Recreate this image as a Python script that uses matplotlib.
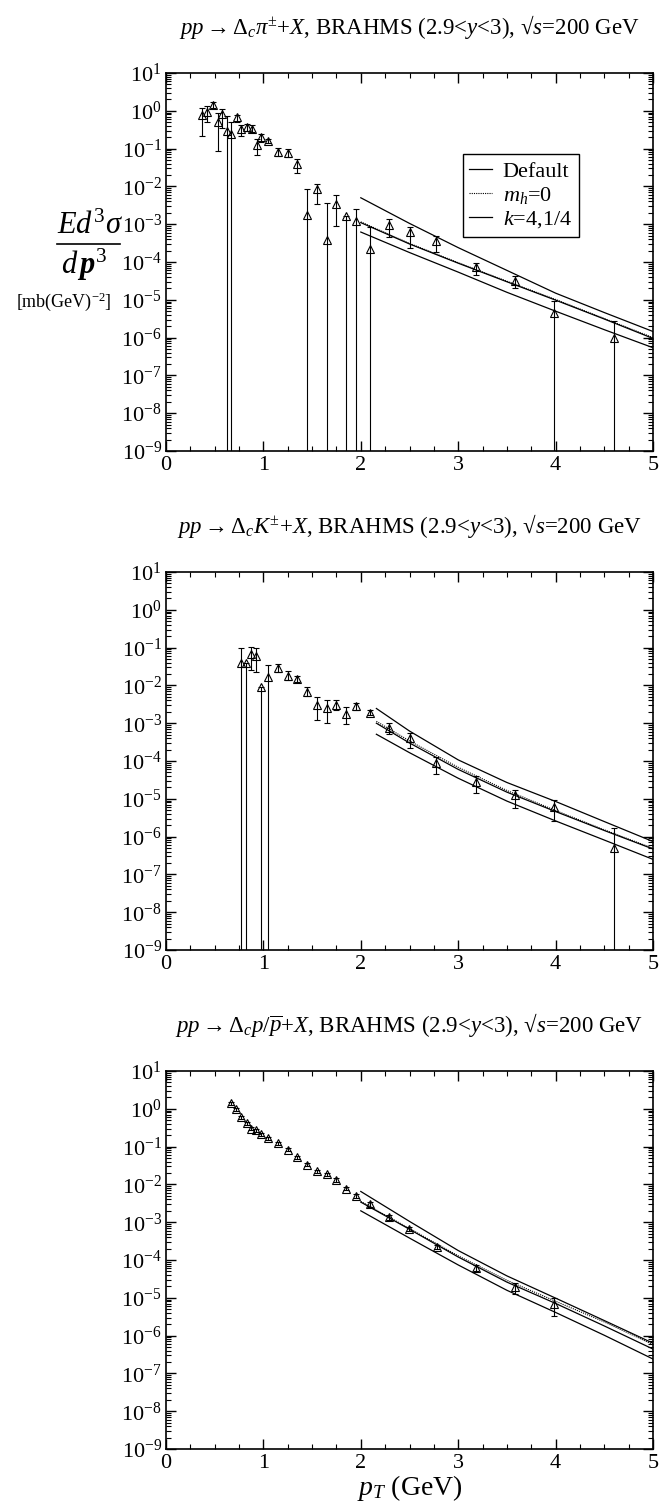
import matplotlib
matplotlib.use("Agg")
import matplotlib.pyplot as plt
import numpy as np
from matplotlib.ticker import LogLocator, FuncFormatter, MultipleLocator, NullFormatter
from matplotlib.lines import Line2D

plt.rcParams['font.family'] = ['Liberation Serif', 'DejaVu Serif']
plt.rcParams['mathtext.fontset'] = 'custom'
plt.rcParams['mathtext.rm'] = 'Liberation Serif'
plt.rcParams['mathtext.it'] = 'Liberation Serif:italic'
plt.rcParams['mathtext.bf'] = 'Liberation Serif:italic:bold'

# ---- data: pi+- panel ----
x1 = [0.37, 0.42, 0.48, 0.53, 0.58, 0.63, 0.67, 0.73, 0.77, 0.83, 0.88, 0.93, 0.98, 1.05, 1.15, 1.25,
      1.35, 1.45, 1.55, 1.65, 1.75, 1.85, 1.95, 2.09, 2.29, 2.50, 2.77, 3.18, 3.58, 3.98, 4.60]
y1 = [0.77, 0.95, 1.42, 0.52, 0.81, 0.29, 0.24, 0.67, 0.33, 0.37, 0.34, 0.124, 0.206, 0.16, 0.083, 0.078,
      0.038, 1.7e-3, 8.3e-3, 3.8e-4, 3.5e-3, 1.6e-3, 1.2e-3, 2.2e-4, 9.5e-4, 6.2e-4, 3.5e-4, 7.2e-5, 3.2e-5, 4.4e-6, 9.6e-7]
hi1 = [1.21, 1.34, 1.68, 0.86, 1.10, 0.73, 0.52, 0.79, 0.42, 0.45, 0.41, 0.176, 0.243, 0.18, 0.105, 0.095,
       0.052, 8.3e-3, 0.0117, 3.7e-3, 5.8e-3, 1.6e-3, 2.6e-3, 8.5e-4, 1.35e-3, 8.5e-4, 4.9e-4, 9.5e-5, 4.3e-5, 9.5e-6, 2.75e-6]
lo1 = [0.21, 0.50, 1.16, 0.088, 0.35, 1e-12, 1e-12, 0.51, 0.215, 0.295, 0.28, 0.068, 0.152, 0.14, 0.062, 0.060,
       0.023, 1e-12, 3.4e-3, 1e-12, 9.1e-4, 1e-12, 1e-12, 1e-12, 4.5e-4, 2.3e-4, 1.86e-4, 4.4e-5, 2.0e-5, 1e-12, 1e-12]

# ---- data: K+- panel ----
x2 = [0.77, 0.82, 0.87, 0.92, 0.98, 1.05, 1.15, 1.25, 1.35, 1.45, 1.55, 1.65, 1.75, 1.85, 1.95, 2.09,
      2.29, 2.50, 2.77, 3.18, 3.58, 3.98, 4.60]
y2 = [0.040, 0.038, 0.068, 0.060, 8.9e-3, 0.017, 0.029, 0.0177, 0.0148, 6.8e-3, 3.0e-3, 2.6e-3, 3.0e-3, 1.7e-3, 2.9e-3, 1.9e-3,
      7.6e-4, 4.0e-4, 8.7e-5, 2.7e-5, 1.26e-5, 6.2e-6, 4.9e-7]
hi2 = [0.095, 0.040, 0.102, 0.095, 8.9e-3, 0.034, 0.037, 0.0234, 0.0174, 9.1e-3, 5.0e-3, 4.2e-3, 4.2e-3, 2.75e-3, 3.5e-3, 2.3e-3,
       1.02e-3, 5.6e-4, 1.29e-4, 4.0e-5, 1.7e-5, 9.3e-6, 1.74e-6]
lo2 = [1e-12, 1e-12, 0.026, 0.022, 1e-12, 1e-12, 0.022, 0.0135, 0.012, 5.1e-3, 1.2e-3, 1.0e-3, 2.3e-3, 9.3e-4, 2.3e-3, 1.6e-3,
       5.1e-4, 2.2e-4, 4.6e-5, 1.4e-5, 5.6e-6, 2.6e-6, 1e-12]

# ---- data: p/pbar panel ----
x3 = [0.67, 0.72, 0.77, 0.83, 0.87, 0.92, 0.98, 1.05, 1.15, 1.25, 1.35, 1.45, 1.55, 1.65, 1.75, 1.85,
      1.95, 2.09, 2.29, 2.49, 2.78, 3.18, 3.58, 3.98]
y3 = [1.40, 0.97, 0.60, 0.41, 0.30, 0.27, 0.215, 0.169, 0.122, 0.083, 0.052, 0.033, 0.0226, 0.0188, 0.0131, 0.0077,
      0.0050, 0.0030, 1.35e-3, 6.6e-4, 2.24e-4, 6.0e-5, 1.9e-5, 6.8e-6]
hi3 = [1.55, 1.06, 0.66, 0.45, 0.33, 0.30, 0.235, 0.185, 0.133, 0.091, 0.057, 0.036, 0.0247, 0.0206, 0.0144, 0.0085,
       0.0056, 0.0034, 1.55e-3, 7.4e-4, 2.5e-4, 7.2e-5, 2.4e-5, 9.8e-6]
lo3 = [1.27, 0.88, 0.54, 0.37, 0.27, 0.245, 0.195, 0.153, 0.110, 0.075, 0.047, 0.030, 0.0205, 0.0170, 0.0118, 0.0069,
       0.0044, 0.0026, 1.17e-3, 5.8e-4, 2.0e-4, 5.0e-5, 1.26e-5, 3.3e-6]

# ---- theory curves ----
cx1 = [2.0, 2.5, 3.0, 3.5, 4.0, 4.5, 5.0]
up1 = [5.0e-3, 1.05e-3, 2.4e-4, 6.0e-5, 1.5e-5, 4.6e-6, 1.45e-6]
mid1 = [1.10e-3, 3.0e-4, 9.3e-5, 3.0e-5, 9.8e-6, 3.1e-6, 9.5e-7]
low1 = [6.2e-4, 1.78e-4, 5.4e-5, 1.58e-5, 5.0e-6, 1.62e-6, 5.4e-7]
dot1 = [1.15e-3, 3.1e-4, 9.6e-5, 3.1e-5, 1.02e-5, 3.2e-6, 1.0e-6]

cx2 = [2.16, 2.5, 3.0, 3.5, 4.0, 4.5, 5.0]
up2 = [2.45e-3, 6.2e-4, 1.07e-4, 2.7e-5, 8.5e-6, 2.5e-6, 7.4e-7]
mid2 = [1.0e-3, 3.0e-4, 6.0e-5, 1.5e-5, 4.6e-6, 1.45e-6, 4.7e-7]
low2 = [5.1e-4, 1.66e-4, 3.5e-5, 8.7e-6, 2.6e-6, 8.1e-7, 2.5e-7]
dot2 = [1.12e-3, 3.4e-4, 6.8e-5, 1.66e-5, 4.9e-6, 1.51e-6, 4.9e-7]

cx3 = [2.0, 2.5, 3.0, 3.5, 4.0, 4.5, 5.0]
up3 = [6.5e-3, 1.05e-3, 1.78e-4, 3.8e-5, 9.8e-6, 2.5e-6, 6.3e-7]
mid3 = [3.4e-3, 6.5e-4, 1.2e-4, 2.6e-5, 7.1e-6, 1.8e-6, 4.4e-7]
low3 = [2.0e-3, 3.8e-4, 7.4e-5, 1.58e-5, 4.1e-6, 1.02e-6, 2.4e-7]
dot3 = [3.55e-3, 6.8e-4, 1.29e-4, 2.9e-5, 8.1e-6, 2.3e-6, 5.8e-7]

tail = r', BRAHMS (2.9<$y$<3), √$s$=200 GeV'
titles = [r'$pp \rightarrow \Delta_c\pi^{\pm}$+$X$' + tail,
          r'$pp \rightarrow \Delta_c K^{\pm}$+$X$' + tail,
          r'$pp \rightarrow \Delta_c p/\overline{p}$+$X$' + tail]

panels = [(x1, y1, lo1, hi1, cx1, up1, mid1, low1, dot1),
          (x2, y2, lo2, hi2, cx2, up2, mid2, low2, dot2),
          (x3, y3, lo3, hi3, cx3, up3, mid3, low3, dot3)]

fig = plt.figure(figsize=(6.61, 15.08), dpi=100)
W, H = 661.0, 1508.0
tops = [73, 572, 1071]

for i, (x, y, lo, hi, cx, up, mid, low, dot) in enumerate(panels):
    ax = fig.add_axes([166 / W, 1 - (tops[i] + 378) / H, 487 / W, 378 / H])
    y = np.array(y)
    yerr = [y - np.array(lo), np.array(hi) - y]
    ax.errorbar(x, y, yerr=yerr, fmt='^', mfc='none', mec='black', ms=5.5, mew=0.8,
                ecolor='black', elinewidth=0.8, capsize=2, capthick=0.8)
    l1, = ax.plot(cx, mid, color='black', lw=0.9)
    l2, = ax.plot(cx, dot, color='black', lw=0.8, ls=(0, (1, 1)))
    l3, = ax.plot(cx, up, color='black', lw=0.9)
    ax.plot(cx, low, color='black', lw=0.9)

    ax.set_yscale('log')
    ax.set_xlim(0, 5)
    ax.set_ylim(1e-9, 10)
    ax.yaxis.set_major_locator(LogLocator(base=10, numticks=20))
    ax.yaxis.set_minor_locator(LogLocator(base=10, subs=np.arange(2, 10), numticks=20))
    ax.yaxis.set_minor_formatter(NullFormatter())
    ax.yaxis.set_major_formatter(FuncFormatter(lambda v, p: r'$10^{%d}$' % round(np.log10(v))))
    ax.xaxis.set_major_locator(MultipleLocator(1))
    ax.xaxis.set_minor_locator(MultipleLocator(0.25))
    ax.tick_params(which='both', direction='in', top=True, right=True, labelsize=16)
    ax.tick_params(which='major', length=7, width=1)
    ax.tick_params(which='minor', length=3.5, width=0.8)
    ax.tick_params(axis='y', pad=3)
    for s in ax.spines.values():
        s.set_linewidth(1.2)
    ax.set_title(titles[i], fontsize=16.5, pad=28)

    if i == 0:
        ax.legend([l1, l2, l3], ['Default', r'$m_h$=0', r'$k$=4,1/4'],
                  loc='upper right', bbox_to_anchor=(0.87, 0.814), fontsize=16,
                  handlelength=1.0, handletextpad=0.5, labelspacing=0.15,
                  borderpad=0.3, fancybox=False, edgecolor='black', framealpha=1)
    if i == 2:
        ax.set_xlabel(r'$p_T$ (GeV)', fontsize=20, labelpad=0)

# y-axis label of the first panel
fig.text(90 / W, 1 - 226 / H, r'$Ed^3\sigma$', fontsize=22, ha='center', va='center')
fig.add_artist(Line2D([57 / W, 120 / W], [1 - 244 / H, 1 - 244 / H], color='black', lw=1.2))
fig.text(84 / W, 1 - 265 / H, r'$d\,\mathbf{p}^3$', fontsize=22, ha='center', va='center')
fig.text(64 / W, 1 - 302 / H, r'[mb(GeV)$^{-2}$]', fontsize=13, ha='center', va='center')

fig.savefig('out.png', dpi=100)
